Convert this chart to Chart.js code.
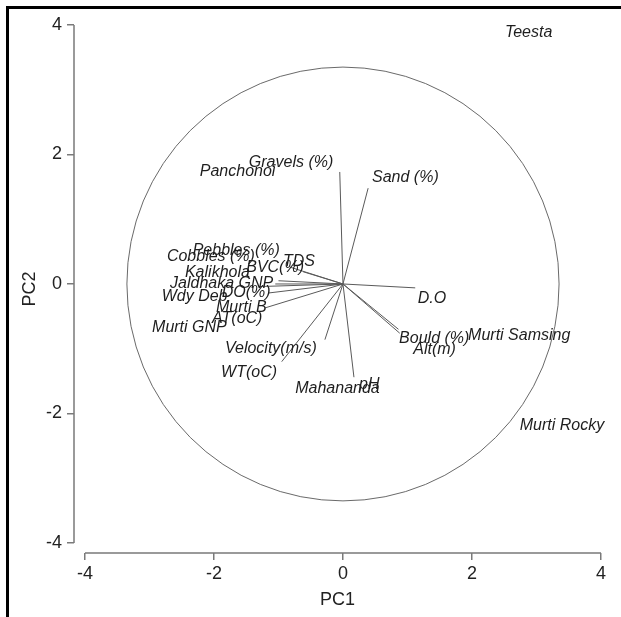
<!DOCTYPE html>
<html><head><meta charset="utf-8">
<script src="https://cdn.jsdelivr.net/npm/chart.js@4"></script>
<style>html,body{margin:0;padding:0;background:#fff}canvas{display:block}</style>
</head><body>
<canvas id="c" width="621" height="617"></canvas>
<script>
const tickValues = [-4, -2, 0, 2, 4];
const siteNames = ['Teesta','Panchonoi','Kalikhola','Jaldhaka GNP','Murti B','Murti GNP','Murti Samsing','Murti Rocky','Mahananda'];
const siteX = [2.51, -2.22, -2.45, -2.68, -1.97, -2.96, 1.94, 2.74, -0.74];
const siteY = [3.88, 1.73, 0.17, 0.00, -0.37, -0.68, -0.80, -2.19, -1.61];
const varNames = ['Gravels (%)','Sand (%)','Pebbles (%)','Cobbles (%)','TDS','BVC(%)','D.O','Bould (%)','Alt(m)','pH','Velocity(m/s)','WT(oC)','AT(oC)','Wdy Deb','DO(%)'];
const varX = [-0.05, 0.39, -1.00, -1.05, -0.82, -0.62, 1.12, 0.88, 0.86, 0.17, -0.28, -0.95, -1.21, -1.30, -1.16];
const varY = [1.73, 1.48, 0.05, 0.00, 0.26, 0.19, -0.06, -0.76, -0.70, -1.44, -0.86, -1.20, -0.37, -0.04, -0.14];
const varLabelX = [-1.46, 0.45, -2.33, -2.73, -0.93, -1.50, 1.16, 0.87, 1.09, 0.25, -1.83, -1.89, -2.03, -2.81, -1.88];
const varLabelY = [1.88, 1.65, 0.51, 0.43, 0.34, 0.25, -0.22, -0.85, -1.02, -1.56, -1.00, -1.37, -0.53, -0.20, -0.14];
const circleRadius = 3.35;

const FONT = '"Liberation Sans", Arial, sans-serif';

const datasets = varNames.map((n, i) => ({
  label: n,
  type: 'line',
  data: [{x: 0, y: 0}, {x: varX[i], y: varY[i]}],
  borderColor: '#5a5a5a',
  borderWidth: 1,
  pointRadius: 0,
  fill: false,
  tension: 0
}));
datasets.push({
  label: 'Sites',
  type: 'scatter',
  data: siteNames.map((n, i) => ({x: siteX[i], y: siteY[i]})),
  pointRadius: 0
});

const decor = {
  id: 'decor',
  beforeDraw(chart) {
    const ctx = chart.ctx;
    ctx.save();
    ctx.fillStyle = '#fff';
    ctx.fillRect(0, 0, chart.width, chart.height);
    ctx.strokeStyle = '#000';
    ctx.lineWidth = 3;
    ctx.beginPath();
    ctx.moveTo(7.5, chart.height + 2);
    ctx.lineTo(7.5, 7.5);
    ctx.lineTo(chart.width + 2, 7.5);
    ctx.stroke();
    ctx.restore();
  },
  beforeDatasetsDraw(chart) {
    const {ctx, chartArea, scales: {x, y}} = chart;
    ctx.save();
    // axis lines spanning the tick range
    ctx.strokeStyle = '#7a7a7a';
    ctx.lineWidth = 1.5;
    ctx.beginPath();
    ctx.moveTo(chartArea.left, y.getPixelForValue(tickValues[tickValues.length - 1]));
    ctx.lineTo(chartArea.left, y.getPixelForValue(tickValues[0]));
    ctx.moveTo(x.getPixelForValue(tickValues[0]), chartArea.bottom);
    ctx.lineTo(x.getPixelForValue(tickValues[tickValues.length - 1]), chartArea.bottom);
    ctx.stroke();
    // correlation circle
    const cx = x.getPixelForValue(0), cy = y.getPixelForValue(0);
    const rx = Math.abs(x.getPixelForValue(circleRadius) - cx);
    const ry = Math.abs(y.getPixelForValue(circleRadius) - cy);
    ctx.strokeStyle = '#6a6a6a';
    ctx.lineWidth = 1;
    ctx.beginPath();
    ctx.ellipse(cx, cy, rx, ry, 0, 0, Math.PI * 2);
    ctx.stroke();
    ctx.restore();
  },
  afterDatasetsDraw(chart) {
    const {ctx, scales: {x, y}} = chart;
    ctx.save();
    ctx.font = 'italic 16px ' + FONT;
    ctx.fillStyle = '#1e1e1e';
    ctx.textAlign = 'left';
    ctx.textBaseline = 'middle';
    varNames.forEach((n, i) => {
      ctx.fillText(n, x.getPixelForValue(varLabelX[i]), y.getPixelForValue(varLabelY[i]));
    });
    const sites = chart.getDatasetMeta(chart.data.datasets.length - 1).data;
    siteNames.forEach((n, i) => {
      ctx.fillText(n, sites[i].x, sites[i].y);
    });
    ctx.restore();
  }
};

new Chart(document.getElementById('c'), {
  type: 'scatter',
  data: {datasets},
  options: {
    responsive: false,
    animation: false,
    events: [],
    layout: {padding: {left: 0, top: 25, right: 20, bottom: 0}},
    plugins: {legend: {display: false}, tooltip: {enabled: false}},
    scales: {
      x: {
        type: 'linear',
        min: -4.17,
        max: 4,
        afterBuildTicks: s => { s.ticks = tickValues.map(v => ({value: v})); },
        afterFit: s => { s.height = 64; },
        grid: {drawOnChartArea: false, drawTicks: true, tickLength: 7, color: '#7a7a7a', lineWidth: 1.5},
        border: {display: false},
        ticks: {font: {size: 18, family: FONT}, color: '#222', padding: 3, maxRotation: 0, autoSkip: false},
        title: {display: true, text: 'PC1', font: {size: 18, family: FONT}, color: '#222', padding: {top: 0, bottom: 6}}
      },
      y: {
        type: 'linear',
        min: -4.155,
        max: 4,
        afterBuildTicks: s => { s.ticks = tickValues.map(v => ({value: v})); },
        afterFit: s => { s.width = 74; },
        grid: {drawOnChartArea: false, drawTicks: true, tickLength: 7, color: '#7a7a7a', lineWidth: 1.5},
        border: {display: false},
        ticks: {font: {size: 18, family: FONT}, color: '#222', padding: 5, autoSkip: false},
        title: {display: true, text: 'PC2', font: {size: 18, family: FONT}, color: '#222', padding: {top: 19, bottom: 0}}
      }
    }
  },
  plugins: [decor]
});
</script>
</body></html>
